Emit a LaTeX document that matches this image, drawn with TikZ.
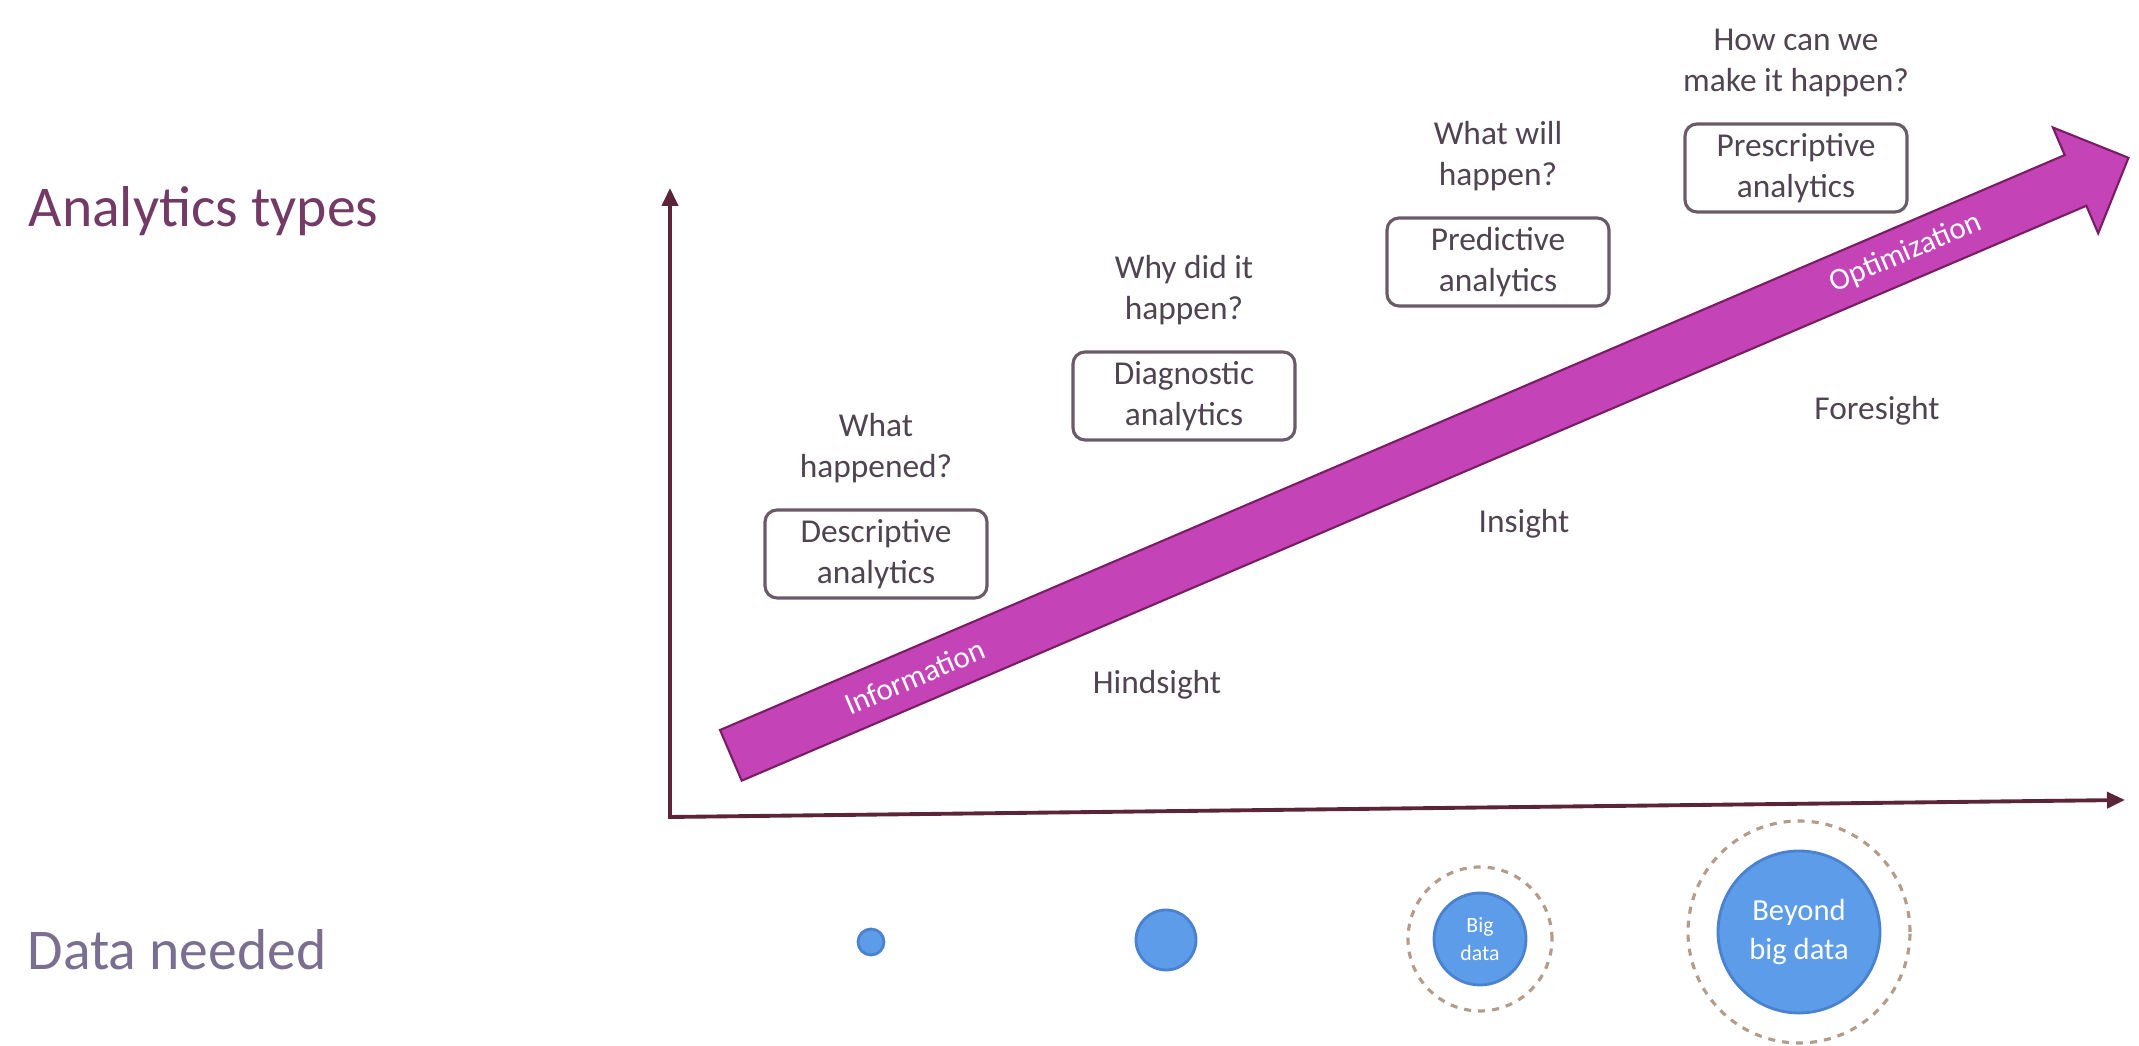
\documentclass[tikz,border=0pt]{standalone}
\usepackage{fontspec}
\setmainfont{Carlito}
\usepackage{xcolor}
\usepackage{tikz}
\usetikzlibrary{shapes.arrows,arrows.meta,positioning,calc}

\definecolor{headcol}{HTML}{733A66}
\definecolor{datacol}{HTML}{7A6F90}
\definecolor{bodytext}{HTML}{4F4450}
\definecolor{boxline}{HTML}{6B5B68}
\definecolor{axiscol}{HTML}{5C2438}
\definecolor{arrowfill}{HTML}{C443B6}
\definecolor{arrowedge}{HTML}{7A1E63}
\definecolor{blobfill}{HTML}{5C9CE8}
\definecolor{blobedge}{HTML}{4A82CF}
\definecolor{ringcol}{HTML}{B49C8A}

\begin{document}
\begin{tikzpicture}[
  heading/.style={
    inner sep=0pt, anchor=base west,
    font=\fontsize{16.4}{20}\selectfont
  },
  kind/.style={
    rectangle, rounded corners=0.12cm, draw=boxline, line width=0.9pt, fill=white,
    minimum width=2.22cm, minimum height=0.88cm, text=bodytext,
    font=\fontsize{9.5}{11.6}\selectfont, align=center, inner sep=0pt
  },
  question/.style={
    inner sep=0pt, align=center, text=bodytext,
    font=\fontsize{9.5}{11.6}\selectfont
  },
  stage/.style={
    inner sep=0pt, text=bodytext, font=\fontsize{9.5}{11.6}\selectfont
  },
  growth/.style={
    single arrow, draw=arrowedge, fill=arrowfill, line width=0.6pt,
    minimum height=15.2cm, inner xsep=0pt, inner ysep=0.265cm,
    single arrow head extend=0.3cm
  },
  onarrow/.style={
    inner sep=0pt, text=white, font=\fontsize{8.8}{10}\selectfont
  },
  blob/.style={
    circle, fill=blobfill, draw=blobedge, line width=0.8pt,
    inner sep=0pt, text=white, align=center
  },
  ring/.style={
    circle, draw=ringcol, dash pattern=on 2pt off 2pt, line width=0.9pt,
    inner sep=0pt
  },
  axis/.style={
    {Triangle[length=0.18cm,width=0.16cm]}-{Triangle[length=0.18cm,width=0.16cm]},
    draw=axiscol, line width=1.1pt
  }
]
\useasboundingbox (0,0) rectangle (21.39,10.46);

% Row titles
\node[heading, text=headcol] (types) at (0.28,8.19) {Analytics types};
\node[heading, text=datacol] (needed) at (0.27,0.76) {Data needed};

% Axes
\coordinate (origin) at (6.70,2.29);
\coordinate (ytop) at (6.70,8.58);
\coordinate (xend) at (21.25,2.46);
\draw[axis] (ytop) -- (origin) -- (xend);

% Big arrow across the chart
\node[growth, rotate=23.15] (trend) at (14.17,5.84) {};
\node[onarrow, rotate=23.15] (info) at ($(trend.tail)!0.132!(trend.tip)$) {Information};
\node[onarrow, rotate=23.15] (optim) at ($(trend.tail)!0.84!(trend.tip)$) {Optimization};

% Analytics boxes
\node[kind] (descr) at (8.76,4.92) {Descriptive\\analytics};
\node[kind] (diagn) at (11.84,6.50) {Diagnostic\\analytics};
\node[kind] (predi) at (14.98,7.84) {Predictive\\analytics};
\node[kind] (presc) at (17.96,8.78) {Prescriptive\\analytics};

% Questions above the boxes
\node[question, above=0.25cm of descr] (qdescr) {What\\happened?};
\node[question, above=0.25cm of diagn] (qdiagn) {Why did it\\happen?};
\node[question, above=0.25cm of predi] (qpredi) {What will\\happen?};
\node[question, above=0.25cm of presc] (qpresc) {How can we\\make it happen?};

% Below the arrow
\node[stage] (hind) at (11.57,3.61) {Hindsight};
\node[stage] (ins) at (15.24,5.22) {Insight};
\node[stage] (fore) at (18.77,6.35) {Foresight};

% Data circles
\node[blob, minimum size=0.26cm] (tiny) at (8.71,1.04) {};
\node[blob, minimum size=0.60cm] (small) at (11.66,1.06) {};
\node[blob, minimum size=0.92cm, font=\fontsize{6.2}{8}\selectfont] (big) at (14.80,1.07) {Big\\data};
\node[ring, minimum size=1.44cm] (bigring) at (big) {};
\node[blob, minimum size=1.62cm, font=\fontsize{8.7}{11.2}\selectfont] (beyond) at (17.99,1.14) {Beyond\\big data};
\node[ring, minimum size=2.22cm] (beyondring) at (beyond) {};

\end{tikzpicture}
\end{document}
